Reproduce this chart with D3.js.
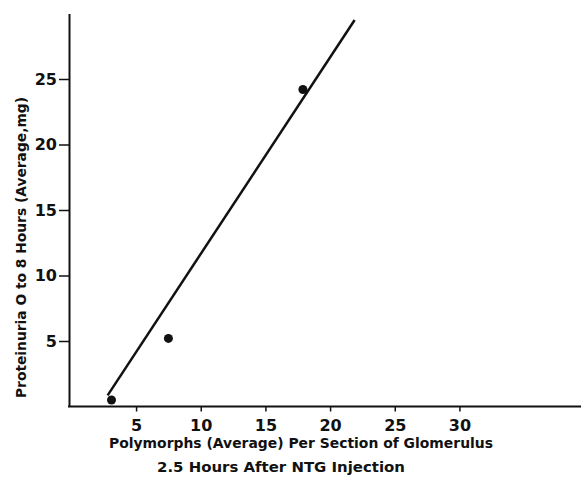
<!DOCTYPE html>
<html>
<head>
<meta charset="utf-8">
<script src="https://cdn.jsdelivr.net/npm/d3@7"></script>
<style>
  body { margin: 0; background: #fff; }
  text { font-family: "DejaVu Sans", sans-serif; font-weight: bold; fill: #111; }
</style>
</head>
<body>
<script>
const width = 581;
const height = 483;

// observed points
const pointX = [3.1, 7.5, 17.9];
const pointY = [0.5, 5.2, 24.2];

// fitted line ends
const lineX = [2.8, 21.9];
const lineY = [0.85, 29.5];

const xTicks = [5, 10, 15, 20, 25, 30];
const yTicks = [5, 10, 15, 20, 25];

const xTitle1 = 'Polymorphs (Average) Per Section of Glomerulus';
const xTitle2 = '2.5 Hours After NTG Injection';
const yTitle = 'Proteinuria O to 8 Hours (Average,mg)';

const svg = d3.select('body')
    .append('svg')
    .attr('width', width)
    .attr('height', height)

const x = d3.scaleLinear().domain([0, 39.4]).range([71.4, 581])
const y = d3.scaleLinear().domain([0, 30]).range([406.5, 13.5])

const axisX0 = 69

const xAxis = svg.append('g')
    .attr('transform', 'translate(0,' + y(0) + ')')
    .call(d3.axisBottom(x).tickValues(xTicks).tickSize(5).tickSizeOuter(0).tickPadding(8))
xAxis.select('.domain').attr('stroke-width', 2).attr('d', 'M' + (axisX0 - 1) + ',0H' + width)

const yAxis = svg.append('g')
    .attr('transform', 'translate(' + axisX0 + ',0)')
    .call(d3.axisLeft(y).tickValues(yTicks).tickSize(10).tickSizeOuter(0).tickPadding(2))
yAxis.select('.domain').attr('stroke-width', 2)

svg.selectAll('.tick line').attr('stroke-width', 1.5).attr('stroke', '#111')
svg.selectAll('.domain').attr('stroke', '#111')
svg.selectAll('.tick text').attr('font-size', 16).attr('fill', '#111')
    .style('font-family', '"DejaVu Sans", sans-serif').style('font-weight', 'bold')

svg.append('line')
    .attr('x1', x(lineX[0]))
    .attr('y1', y(lineY[0]))
    .attr('x2', x(lineX[1]))
    .attr('y2', y(lineY[1]))
    .attr('stroke', '#111')
    .attr('stroke-width', 2.5)

svg.append('g')
    .selectAll('circle')
    .data(pointX)
    .join('circle')
    .attr('cx', d => x(d))
    .attr('cy', (d, i) => y(pointY[i]))
    .attr('r', 4.5)
    .attr('fill', '#111')

svg.append('text')
    .attr('x', 109).attr('y', 448)
    .attr('font-size', 14)
    .attr('textLength', 384)
    .attr('lengthAdjust', 'spacingAndGlyphs')
    .text(xTitle1)

svg.append('text')
    .attr('x', 157).attr('y', 472)
    .attr('font-size', 14)
    .attr('textLength', 248)
    .attr('lengthAdjust', 'spacingAndGlyphs')
    .text(xTitle2)

svg.append('text')
    .attr('transform', 'translate(26,398) rotate(-90)')
    .attr('font-size', 14)
    .attr('textLength', 301)
    .attr('lengthAdjust', 'spacingAndGlyphs')
    .text(yTitle)
</script>
</body>
</html>
